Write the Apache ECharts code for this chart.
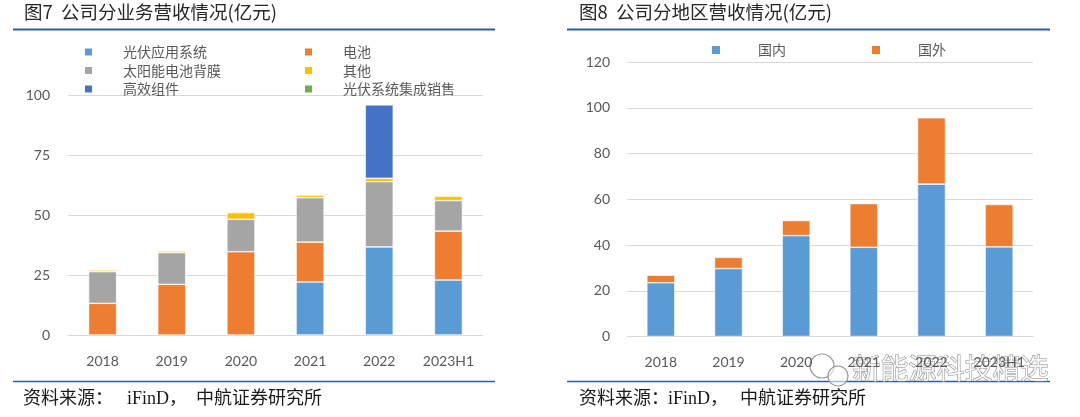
<!DOCTYPE html>
<html><head><meta charset="utf-8">
<script src="https://cdn.jsdelivr.net/npm/echarts@6/dist/echarts.min.js"></script>
<style>html,body{margin:0;padding:0;background:#fff}#c{width:1080px;height:417px}</style>
</head><body><div id="c"></div>
<script>
const categories = ['2018','2019','2020','2021','2022','2023H1'];
// 图7 分业务 (亿元)
const pvApp    = [0, 0, 0, 22.1, 36.7, 22.9];      // 光伏应用系统
const battery  = [13.2, 21.1, 34.7, 16.6, 0, 20.4]; // 电池
const backsheet= [13.2, 13.2, 13.5, 18.5, 27.2, 12.7]; // 太阳能电池背膜
const other    = [0.7, 0.7, 2.8, 1.1, 1.4, 1.8];   // 其他
const module_  = [0, 0, 0, 0, 30.6, 0];            // 高效组件
const pvInteg  = [0, 0, 0, 0, 0, 0];               // 光伏系统集成销售
// 图8 分地区 (亿元)
const domestic = [23.5, 29.7, 44.1, 39.0, 66.6, 39.2];
const overseas = [3.3, 4.9, 6.6, 19.1, 29.0, 18.5];
const leftTicks = [0, 25, 50, 75, 100];
const rightTicks = [0, 20, 40, 60, 80, 100, 120];

const FONT = 'Lato, "Noto Sans CJK SC", sans-serif';
const CJK = '"Noto Sans CJK SC", sans-serif';
const SERIF = '"Liberation Serif", "Noto Sans CJK SC", serif';
const gray = '#595959';
const colors = {pvApp:'#5B9BD5', battery:'#ED7D31', backsheet:'#A5A5A5', other:'#FFC000', module:'#4472C4', pvInteg:'#70AD47'};

const chart = echarts.init(document.getElementById('c'), null, {renderer:'canvas'});

function bar(name, data, color, xi, stack){
  return {name, type:'bar', stack, xAxisIndex:xi, yAxisIndex:xi, data: data.map(v=>v===0?'-':v),
    barWidth:28, itemStyle:{color, borderColor:'#fff', borderWidth:0.6}};
}
const legText = (pad)=>({color:gray, fontSize:14, fontFamily:CJK, padding:[0,0,0,pad], lineHeight:14});
const src = (t, x)=>({type:'text', left:x, top:390, style:{text:t, fontSize:18, fontFamily:SERIF, fill:'#1a1a1a'}});

const option = {
  animation:false,
  textStyle:{fontFamily:FONT},
  grid:[
    {left:68, right:597, top:95, bottom:82},
    {left:627, right:47, top:62, bottom:80.5}
  ],
  legend:[
    {left:83, top:45, padding:0, orient:'vertical', itemWidth:9, itemHeight:9, itemGap:4.5, icon:'rect',
      data:['光伏应用系统','太阳能电池背膜','高效组件'], textStyle:legText(25)},
    {left:303, top:45, padding:0, orient:'vertical', itemWidth:9, itemHeight:9, itemGap:4.5, icon:'rect',
      data:['电池','其他','光伏系统集成销售'], textStyle:legText(25)},
    {left:710, top:43, padding:0, itemWidth:10, itemHeight:10, icon:'rect', data:['国内'], textStyle:legText(32)},
    {left:870, top:43, padding:0, itemWidth:10, itemHeight:10, icon:'rect', data:['国外'], textStyle:legText(32)}
  ],
  xAxis:[
    {type:'category', gridIndex:0, data:categories, axisTick:{show:false},
      axisLine:{lineStyle:{color:'#D9D9D9'}}, axisLabel:{color:gray, fontSize:14, margin:19, fontFamily:FONT}},
    {type:'category', gridIndex:1, data:categories, axisTick:{show:false},
      axisLine:{lineStyle:{color:'#D9D9D9'}}, axisLabel:{color:gray, fontSize:14, margin:19, fontFamily:FONT}}
  ],
  yAxis:[
    {type:'value', gridIndex:0, min:leftTicks[0], max:leftTicks[leftTicks.length-1], interval:25,
      axisLine:{show:false}, axisTick:{show:false}, splitLine:{lineStyle:{color:'#D9D9D9'}},
      axisLabel:{color:gray, fontSize:14, margin:18, fontFamily:FONT}},
    {type:'value', gridIndex:1, min:rightTicks[0], max:rightTicks[rightTicks.length-1], interval:20,
      axisLine:{show:false}, axisTick:{show:false}, splitLine:{lineStyle:{color:'#D9D9D9'}},
      axisLabel:{color:gray, fontSize:14, margin:17, fontFamily:FONT}}
  ],
  series:[
    bar('光伏应用系统', pvApp, colors.pvApp, 0, 'a'),
    bar('电池', battery, colors.battery, 0, 'a'),
    bar('太阳能电池背膜', backsheet, colors.backsheet, 0, 'a'),
    bar('其他', other, colors.other, 0, 'a'),
    bar('高效组件', module_, colors.module, 0, 'a'),
    bar('光伏系统集成销售', pvInteg, colors.pvInteg, 0, 'a'),
    bar('国内', domestic, '#5B9BD5', 1, 'b'),
    bar('国外', overseas, '#ED7D31', 1, 'b')
  ],
  graphic:[
    {type:'text', left:24, top:3, style:{text:'图7  公司分业务营收情况(亿元)', fontSize:18.5, fontFamily:CJK, fill:'#262626'}},
    {type:'text', left:579, top:3, style:{text:'图8  公司分地区营收情况(亿元)', fontSize:18.5, fontFamily:CJK, fill:'#262626'}},
    {type:'line', shape:{x1:13,y1:29.5,x2:495,y2:29.5}, style:{stroke:'#2F5E9E', lineWidth:2}},
    {type:'line', shape:{x1:567,y1:29.5,x2:1050,y2:29.5}, style:{stroke:'#2F5E9E', lineWidth:2}},
    {type:'line', shape:{x1:13,y1:381.5,x2:495,y2:381.5}, style:{stroke:'#2F5E9E', lineWidth:1.5}},
    {type:'line', shape:{x1:567,y1:381.5,x2:1050,y2:381.5}, style:{stroke:'#2F5E9E', lineWidth:1.5}},
    src('资料来源：', 23), src('iFinD，', 127), src('中航证券研究所', 196),
    src('资料来源：', 579), src('iFinD，', 668), src('中航证券研究所', 740),
    {type:'circle', shape:{cx:822, cy:366, r:12}, style:{fill:'rgba(255,255,255,0.6)', stroke:'#999', lineWidth:1.2}},
    {type:'circle', shape:{cx:838, cy:376, r:10}, style:{fill:'rgba(255,255,255,0.6)', stroke:'#999', lineWidth:1.2}},
    {type:'text', left:852, top:354, style:{text:'新能源科技精选', fontSize:28, fontFamily:CJK, fill:'rgba(255,255,255,0.85)', stroke:'#8a8a8a', lineWidth:1}}
  ]
};
chart.setOption(option);
</script></body></html>
